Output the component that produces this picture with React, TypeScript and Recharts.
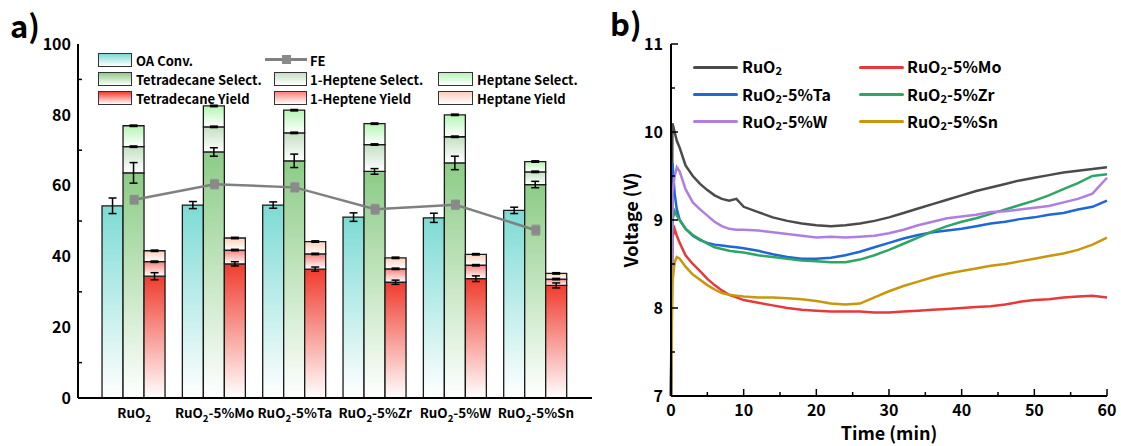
import React from "react";
import {
  ComposedChart,
  LineChart,
  Bar,
  Line,
  XAxis,
  YAxis,
  ErrorBar,
  Legend,
} from "recharts";

const FONT_FAMILY = '"Noto Sans CJK SC", "Open Sans", sans-serif';

// ---- panel a data ----
const CATALYSTS = ["RuO2", "RuO2-5%Mo", "RuO2-5%Ta", "RuO2-5%Zr", "RuO2-5%W", "RuO2-5%Sn"];
const OA_CONV = [54.3, 54.5, 54.5, 51.1, 50.9, 53.0];
const OA_CONV_ERR = [2.2, 1.0, 0.9, 1.2, 1.3, 0.9];
const TETRADECANE_SEL = [63.6, 69.5, 67.0, 64.0, 66.4, 60.3];
const TETRADECANE_SEL_ERR = [2.9, 1.2, 1.9, 0.8, 1.9, 0.9];
const HEPTENE_SEL = [7.4, 7.1, 7.9, 7.6, 7.4, 3.6];
const HEPTANE_SEL = [5.9, 5.9, 6.4, 5.9, 6.2, 2.9];
const TETRADECANE_YIELD = [34.4, 37.9, 36.4, 32.7, 33.7, 31.8];
const TETRADECANE_YIELD_ERR = [1.0, 0.6, 0.6, 0.6, 0.8, 0.7];
const HEPTENE_YIELD = [4.1, 3.9, 4.3, 3.8, 3.8, 1.8];
const HEPTANE_YIELD = [3.1, 3.4, 3.5, 3.1, 3.1, 1.6];
const FE = [56.0, 60.4, 59.5, 53.3, 54.6, 47.4];
const FE_ERR = [1.2, 1.3, 1.3, 1.4, 1.3, 1.4];
const SMALL_ERR = [0.2, 0.2, 0.2, 0.2, 0.2, 0.2];
const Y_TICKS_A = [0, 10, 20, 30, 40, 50, 60, 70, 80, 90, 100];

// ---- panel b data ----
const TIME = [0, 0.2, 0.5, 0.8, 1.2, 2, 3, 4, 5, 6, 7, 8, 9, 10, 12, 14, 16, 18, 20, 22, 24, 26, 28, 30, 32, 34, 36, 38, 40, 42, 44, 46, 48, 50, 52, 54, 56, 58, 60];
const V_RUO2 = [7.0, 10.1, 10.0, 9.9, 9.82, 9.62, 9.5, 9.41, 9.34, 9.28, 9.24, 9.22, 9.24, 9.15, 9.09, 9.03, 8.99, 8.96, 8.94, 8.93, 8.94, 8.96, 8.99, 9.03, 9.08, 9.13, 9.18, 9.23, 9.28, 9.33, 9.37, 9.41, 9.45, 9.48, 9.51, 9.54, 9.56, 9.58, 9.6];
const V_MO = [7.0, 8.8, 8.9, 8.82, 8.74, 8.6, 8.5, 8.42, 8.33, 8.26, 8.2, 8.15, 8.12, 8.09, 8.06, 8.03, 8.0, 7.98, 7.97, 7.96, 7.96, 7.96, 7.95, 7.95, 7.96, 7.97, 7.98, 7.99, 8.0, 8.01, 8.02, 8.04, 8.07, 8.09, 8.1, 8.12, 8.13, 8.14, 8.12];
const V_TA = [7.0, 9.65, 9.3, 9.12, 9.0, 8.9, 8.82, 8.77, 8.74, 8.72, 8.71, 8.7, 8.69, 8.68, 8.65, 8.61, 8.58, 8.56, 8.56, 8.57, 8.6, 8.64, 8.69, 8.74, 8.79, 8.83, 8.86, 8.88, 8.9, 8.93, 8.96, 8.98, 9.01, 9.03, 9.06, 9.08, 9.12, 9.15, 9.22];
const V_ZR = [7.0, 9.0, 9.1, 9.05, 9.0, 8.9, 8.83, 8.78, 8.73, 8.69, 8.67, 8.65, 8.64, 8.63, 8.6, 8.58, 8.56, 8.54, 8.53, 8.52, 8.52, 8.55, 8.6, 8.66, 8.73, 8.8, 8.87, 8.93, 8.98, 9.02, 9.07, 9.12, 9.17, 9.22, 9.28, 9.35, 9.42, 9.5, 9.52];
const V_W = [7.0, 9.3, 9.5, 9.6, 9.55, 9.35, 9.2, 9.12, 9.05, 8.98, 8.93, 8.9, 8.89, 8.89, 8.88, 8.86, 8.84, 8.82, 8.8, 8.81, 8.8, 8.81, 8.82, 8.85, 8.89, 8.94, 8.98, 9.02, 9.04, 9.06, 9.09, 9.1, 9.12, 9.14, 9.16, 9.2, 9.24, 9.3, 9.48];
const V_SN = [7.0, 8.3, 8.52, 8.58, 8.56, 8.47, 8.38, 8.32, 8.26, 8.21, 8.17, 8.15, 8.14, 8.13, 8.12, 8.12, 8.11, 8.1, 8.08, 8.05, 8.04, 8.05, 8.12, 8.19, 8.25, 8.3, 8.35, 8.39, 8.42, 8.45, 8.48, 8.5, 8.53, 8.56, 8.59, 8.62, 8.66, 8.72, 8.8];
const X_TICKS_B = [0, 5, 10, 15, 20, 25, 30, 35, 40, 45, 50, 55, 60];
const Y_TICKS_B = [7, 7.5, 8, 8.5, 9, 9.5, 10, 10.5, 11];

const barData = CATALYSTS.map((name, i) => ({
  name,
  oa: OA_CONV[i],
  oaErr: OA_CONV_ERR[i],
  tdS: TETRADECANE_SEL[i],
  tdSErr: TETRADECANE_SEL_ERR[i],
  hS: HEPTENE_SEL[i],
  hpS: HEPTANE_SEL[i],
  tdY: TETRADECANE_YIELD[i],
  tdYErr: TETRADECANE_YIELD_ERR[i],
  hY: HEPTENE_YIELD[i],
  hpY: HEPTANE_YIELD[i],
  capErr: SMALL_ERR[i],
  fe: FE[i],
  feErr: FE_ERR[i],
}));

const toPoints = (vals: number[]) => TIME.map((t, i) => ({ t, v: vals[i] }));

const SERIES_B = [
  { name: "RuO2", data: toPoints(V_RUO2), color: "#4b4b4b" },
  { name: "RuO2-5%Mo", data: toPoints(V_MO), color: "#e8383b" },
  { name: "RuO2-5%Ta", data: toPoints(V_TA), color: "#1f66d6" },
  { name: "RuO2-5%Zr", data: toPoints(V_ZR), color: "#2ea565" },
  { name: "RuO2-5%W", data: toPoints(V_W), color: "#b07ee0" },
  { name: "RuO2-5%Sn", data: toPoints(V_SN), color: "#c9960c" },
];

const GRAD = {
  oa: "#7ddbd4",
  tdS: "#8ccc86",
  hS: "#c4e0c2",
  hpS: "#b5f5b5",
  tdY: "#f03c2e",
  hY: "#f7827a",
  hpY: "#fccfba",
};

// SVG label with subscript 2
const ChemSvg = ({ text }: { text: string }) => {
  const rest = text.slice(4);
  return (
    <>
      <tspan>RuO</tspan>
      <tspan dy={4} fontSize="0.72em">2</tspan>
      {rest && <tspan dy={-4}>{rest}</tspan>}
    </>
  );
};

const ChemHtml = ({ text }: { text: string }) => (
  <span>
    RuO<sub style={{ fontSize: "0.7em", verticalAlign: "-0.25em" }}>2</sub>
    {text.slice(4)}
  </span>
);

const XTickA = ({ x, y, payload }: any) => (
  <text x={x} y={y} dy="0.71em" textAnchor="middle" fontFamily={FONT_FAMILY} fontWeight={700} fontSize={13.4} fill="#000">
    <ChemSvg text={payload.value} />
  </text>
);

const YTickA = ({ x, y, payload }: any) => {
  const v = payload.value as number;
  const axisX = x + 7;
  if (v % 20 !== 0) {
    return <line x1={axisX} x2={axisX + 4} y1={y} y2={y} stroke="#000" strokeWidth={1.5} />;
  }
  return (
    <text x={x} y={y} dy="0.36em" textAnchor="end" fontFamily={FONT_FAMILY} fontWeight={700} fontSize={16} fill="#000">
      {v}
    </text>
  );
};

const XTickB = ({ x, y, payload }: any) => {
  const v = payload.value as number;
  const axisY = y - 9;
  const major = v % 10 === 0;
  return (
    <g>
      <line x1={x} x2={x} y1={axisY} y2={axisY - (major ? 7 : 4)} stroke="#000" strokeWidth={1.5} />
      {major && (
        <text x={x} y={y} dy="0.71em" textAnchor="middle" fontFamily={FONT_FAMILY} fontWeight={700} fontSize={16} fill="#000">
          {v}
        </text>
      )}
    </g>
  );
};

const YTickB = ({ x, y, payload }: any) => {
  const v = payload.value as number;
  const axisX = x + 8;
  const major = Number.isInteger(v);
  return (
    <g>
      <line x1={axisX} x2={axisX + (major ? 7 : 4)} y1={y} y2={y} stroke="#000" strokeWidth={1.5} />
      {major && (
        <text x={x} y={y} dy="0.36em" textAnchor="end" fontFamily={FONT_FAMILY} fontWeight={700} fontSize={16} fill="#000">
          {v}
        </text>
      )}
    </g>
  );
};

const SquareDot = ({ cx, cy }: any) => (
  <rect x={cx - 4.5} y={cy - 4.5} width={9} height={9} fill="#8a8a8a" />
);

const LEGEND_A_ITEMS = [
  { label: "OA Conv.", key: "oa", col: 0, row: 0 },
  { label: "FE", key: "fe", col: 1, row: 0 },
  { label: "Tetradecane Select.", key: "tdS", col: 0, row: 1 },
  { label: "1-Heptene Select.", key: "hS", col: 1, row: 1 },
  { label: "Heptane Select.", key: "hpS", col: 2, row: 1 },
  { label: "Tetradecane Yield", key: "tdY", col: 0, row: 2 },
  { label: "1-Heptene Yield", key: "hY", col: 1, row: 2 },
  { label: "Heptane Yield", key: "hpY", col: 2, row: 2 },
];
const LA_SWATCH_X = [98, 274, 438];
const LA_SWATCH_W = [34, 33, 35];
const LA_TEXT_X = [136, 310, 477];
const LA_ROW_Y = [59.5, 78.5, 98];

const LegendA = () => (
  <div style={{ position: "relative", width: 600, height: 120, fontFamily: FONT_FAMILY, fontWeight: 700, fontSize: 13, color: "#000" }}>
    {LEGEND_A_ITEMS.map((it) => {
      const cy = LA_ROW_Y[it.row];
      const sx = LA_SWATCH_X[it.col];
      return (
        <React.Fragment key={it.key}>
          {it.key === "fe" ? (
            <>
              <div style={{ position: "absolute", left: 265, top: cy - 1.25, width: 42, height: 2.5, background: "#808080" }} />
              <div style={{ position: "absolute", left: 282, top: cy - 4.5, width: 9, height: 9, background: "#8a8a8a" }} />
            </>
          ) : (
            <div
              style={{
                position: "absolute",
                left: sx,
                top: cy - 7,
                width: LA_SWATCH_W[it.col],
                height: 14,
                boxSizing: "border-box",
                border: "1.5px solid #333",
                background: `linear-gradient(to bottom, ${(GRAD as any)[it.key]}, #ffffff)`,
              }}
            />
          )}
          <div style={{ position: "absolute", left: LA_TEXT_X[it.col], top: cy, transform: "translateY(-50%)", lineHeight: 1, whiteSpace: "nowrap" }}>
            {it.label}
          </div>
        </React.Fragment>
      );
    })}
  </div>
);

const LB_LINE_X = [93, 259];
const LB_TEXT_X = [142, 307];
const LB_ROW_Y = [67, 94.5, 121.5];

const LegendB = () => (
  <div style={{ position: "relative", width: 521, height: 140, fontFamily: FONT_FAMILY, fontWeight: 700, fontSize: 16, color: "#000" }}>
    {SERIES_B.map((s, i) => {
      const col = i % 2;
      const cy = LB_ROW_Y[Math.floor(i / 2)];
      return (
        <React.Fragment key={s.name}>
          <div style={{ position: "absolute", left: LB_LINE_X[col], top: cy - 1.5, width: 45, height: 3, borderRadius: 1.5, background: s.color }} />
          <div style={{ position: "absolute", left: LB_TEXT_X[col], top: cy, transform: "translateY(-50%)", lineHeight: 1, whiteSpace: "nowrap" }}>
            <ChemHtml text={s.name} />
          </div>
        </React.Fragment>
      );
    })}
  </div>
);

const gradStop = (id: string, color: string) => (
  <linearGradient id={id} key={id} x1="0" y1="0" x2="0" y2="1">
    <stop offset="0" stopColor={color} />
    <stop offset="1" stopColor="#ffffff" />
  </linearGradient>
);

const AXIS_LINE = { stroke: "#000", strokeWidth: 2 };
const BAR_STROKE = "#1a1a1a";

export default function App() {
  return (
    <div style={{ position: "absolute", left: 0, top: 0, width: 1121, height: 446, background: "#fff" }}>
      <div style={{ position: "absolute", left: 10, top: 8, fontFamily: FONT_FAMILY, fontWeight: 700, fontSize: 31, lineHeight: 1.1 }}>a)</div>
      <div style={{ position: "absolute", left: 610, top: 6, fontFamily: FONT_FAMILY, fontWeight: 700, fontSize: 31, lineHeight: 1.1 }}>b)</div>

      <div style={{ position: "absolute", left: 0, top: 0 }}>
        <ComposedChart
          width={600}
          height={446}
          data={barData}
          margin={{ top: 44, right: 8, bottom: 0, left: 0 }}
          barGap={0}
          barCategoryGap="10%"
        >
          <defs>{Object.entries(GRAD).map(([k, c]) => gradStop(`g-${k}`, c))}</defs>
          <XAxis
            dataKey="name"
            height={48}
            padding={{ left: 16, right: 16 }}
            axisLine={AXIS_LINE}
            tickLine={false}
            tickSize={0}
            tickMargin={10}
            tick={<XTickA />}
            interval={0}
          />
          <XAxis xAxisId="top" dataKey="name" orientation="top" height={0} tick={false} tickLine={false} axisLine={AXIS_LINE} />
          <YAxis
            domain={[0, 100]}
            ticks={Y_TICKS_A}
            width={78}
            axisLine={AXIS_LINE}
            tickLine={false}
            tickSize={0}
            tickMargin={7}
            tick={<YTickA />}
            interval={0}
          />
          <YAxis yAxisId="right" orientation="right" domain={[0, 100]} width={0} tick={false} tickLine={false} axisLine={AXIS_LINE} />
          <Legend layout="vertical" align="center" verticalAlign="middle" wrapperStyle={{ left: 0, top: 0, width: 600, height: 120 }} content={<LegendA />} />

          <Bar dataKey="oa" stackId="conv" fill="url(#g-oa)" stroke={BAR_STROKE} strokeWidth={1.3} isAnimationActive={false}>
            <ErrorBar dataKey="oaErr" width={4} stroke="#000" strokeWidth={1.5} />
          </Bar>
          <Bar dataKey="tdS" stackId="sel" fill="url(#g-tdS)" stroke={BAR_STROKE} strokeWidth={1.3} isAnimationActive={false}>
            <ErrorBar dataKey="tdSErr" width={4} stroke="#000" strokeWidth={1.5} />
          </Bar>
          <Bar dataKey="hS" stackId="sel" fill="url(#g-hS)" stroke={BAR_STROKE} strokeWidth={1.3} isAnimationActive={false}>
            <ErrorBar dataKey="capErr" width={4} stroke="#000" strokeWidth={1.5} />
          </Bar>
          <Bar dataKey="hpS" stackId="sel" fill="url(#g-hpS)" stroke={BAR_STROKE} strokeWidth={1.3} isAnimationActive={false}>
            <ErrorBar dataKey="capErr" width={4} stroke="#000" strokeWidth={1.5} />
          </Bar>
          <Bar dataKey="tdY" stackId="yld" fill="url(#g-tdY)" stroke={BAR_STROKE} strokeWidth={1.3} isAnimationActive={false}>
            <ErrorBar dataKey="tdYErr" width={4} stroke="#000" strokeWidth={1.5} />
          </Bar>
          <Bar dataKey="hY" stackId="yld" fill="url(#g-hY)" stroke={BAR_STROKE} strokeWidth={1.3} isAnimationActive={false}>
            <ErrorBar dataKey="capErr" width={4} stroke="#000" strokeWidth={1.5} />
          </Bar>
          <Bar dataKey="hpY" stackId="yld" fill="url(#g-hpY)" stroke={BAR_STROKE} strokeWidth={1.3} isAnimationActive={false}>
            <ErrorBar dataKey="capErr" width={4} stroke="#000" strokeWidth={1.5} />
          </Bar>
          <Line dataKey="fe" stroke="#808080" strokeWidth={2.5} dot={<SquareDot />} activeDot={false} isAnimationActive={false}>
            <ErrorBar dataKey="feErr" width={4} stroke="#9a9a9a" strokeWidth={1.5} />
          </Line>
        </ComposedChart>
      </div>

      <div style={{ position: "absolute", left: 600, top: 0 }}>
        <LineChart width={521} height={446} margin={{ top: 44, right: 14, bottom: 0, left: 0 }}>
          <XAxis
            type="number"
            dataKey="t"
            domain={[0, 60]}
            ticks={X_TICKS_B}
            height={50}
            axisLine={AXIS_LINE}
            tickLine={false}
            tickSize={0}
            tickMargin={9}
            tick={<XTickB />}
            interval={0}
            label={{ value: "Time (min)", position: "insideBottom", offset: 6, style: { fontFamily: FONT_FAMILY, fontWeight: 700, fontSize: 18, fill: "#000" } }}
          />
          <XAxis xAxisId="top" type="number" dataKey="t" domain={[0, 60]} orientation="top" height={0} tick={false} tickLine={false} axisLine={AXIS_LINE} />
          <YAxis
            type="number"
            domain={[7, 11]}
            ticks={Y_TICKS_B}
            width={71}
            axisLine={AXIS_LINE}
            tickLine={false}
            tickSize={0}
            tickMargin={8}
            tick={<YTickB />}
            interval={0}
            label={{ value: "Voltage (V)", angle: -90, position: "center", dx: -4, style: { fontFamily: FONT_FAMILY, fontWeight: 700, fontSize: 18, fill: "#000" } }}
          />
          <YAxis yAxisId="right" orientation="right" domain={[7, 11]} width={0} tick={false} tickLine={false} axisLine={AXIS_LINE} />
          <Legend layout="vertical" align="center" verticalAlign="middle" wrapperStyle={{ left: 0, top: 0, width: 521, height: 140 }} content={<LegendB />} />
          {SERIES_B.map((s) => (
            <Line
              key={s.name}
              data={s.data}
              dataKey="v"
              name={s.name}
              stroke={s.color}
              strokeWidth={2.5}
              dot={false}
              activeDot={false}
              isAnimationActive={false}
            />
          ))}
        </LineChart>
      </div>
    </div>
  );
}
